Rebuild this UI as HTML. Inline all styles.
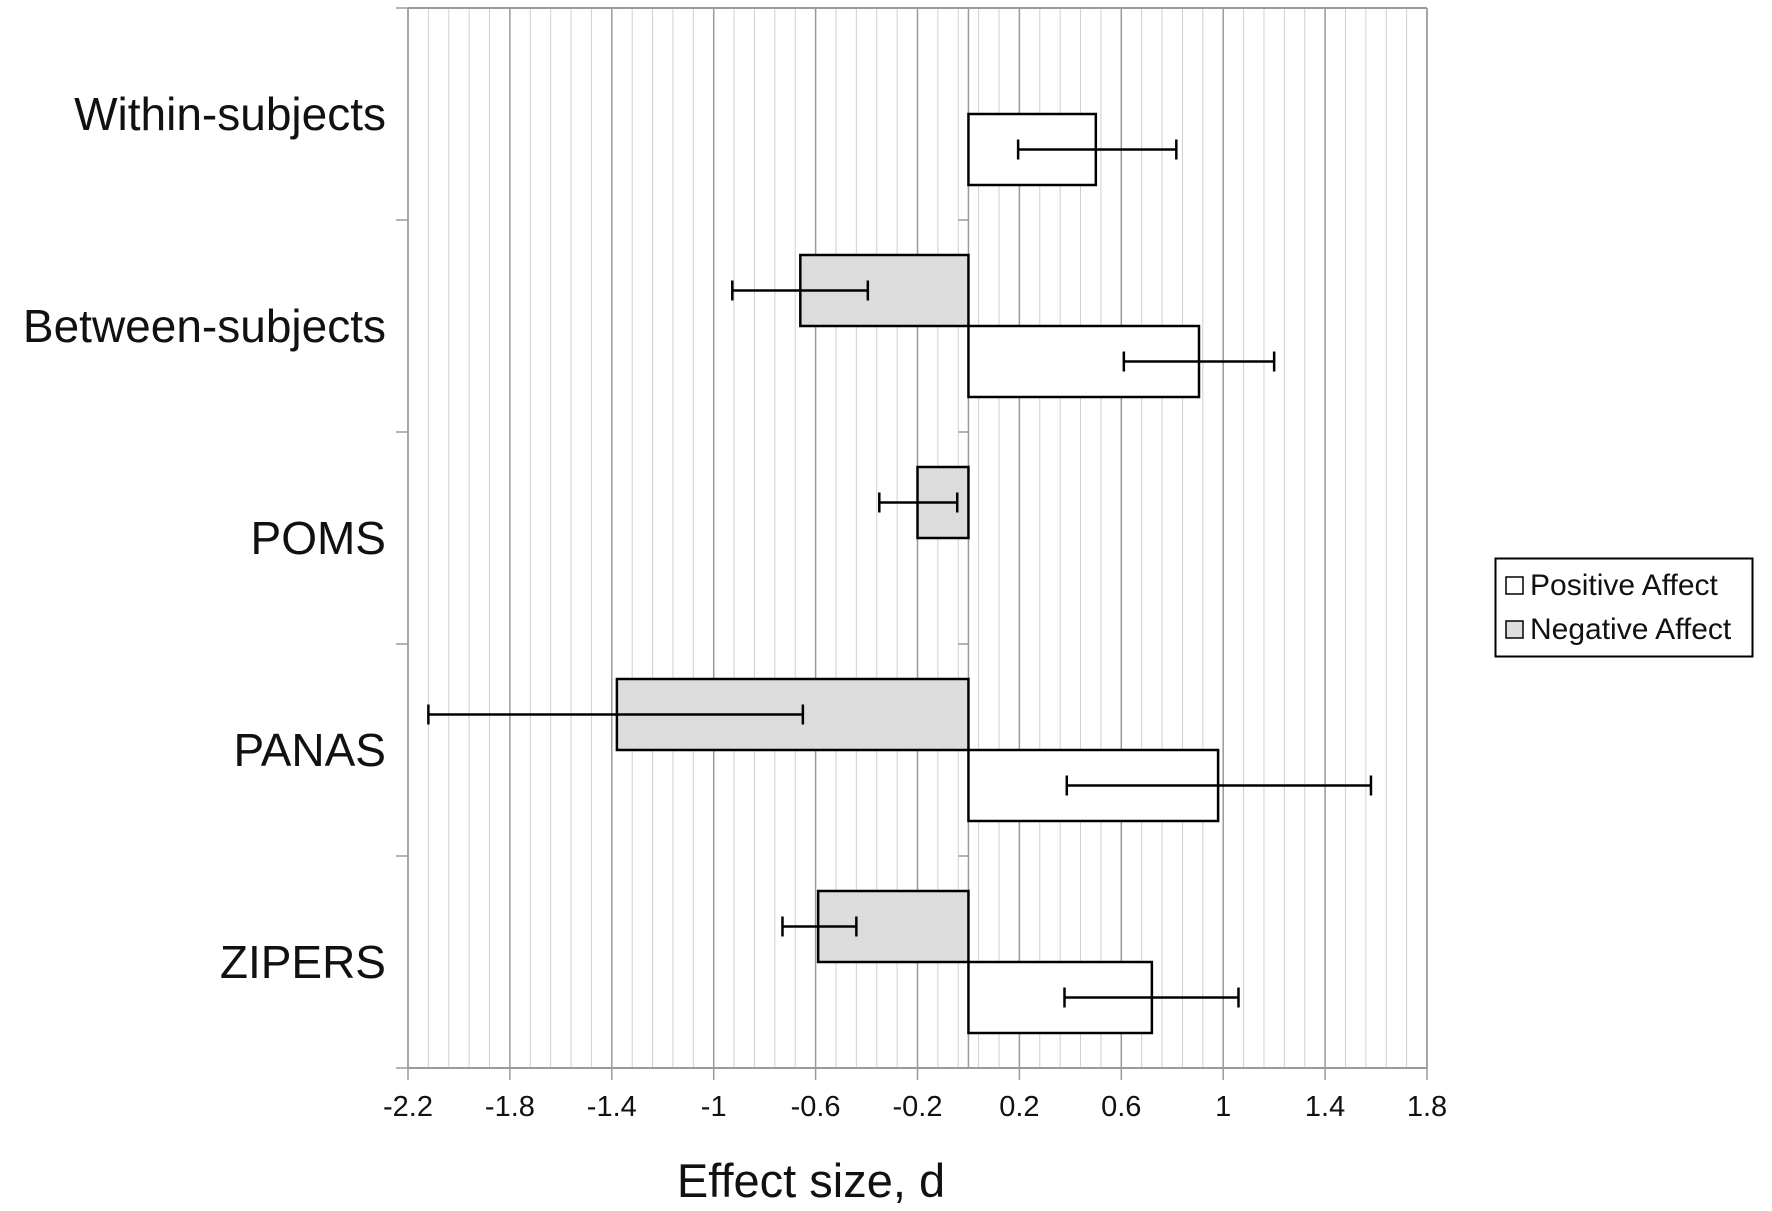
<!DOCTYPE html>
<html><head><meta charset="utf-8"><style>
html,body{margin:0;padding:0;background:#fff;}
svg{display:block;}
text{font-family:"Liberation Sans",Arial,sans-serif;fill:#111;}
</style></head><body>
<svg id="chart" width="1772" height="1211" viewBox="0 0 1772 1211">
<g id="grid"></g>
<g id="bars"></g>
<g id="axes"></g>
<text x="811" y="1197" font-size="47" text-anchor="middle">Effect size, d</text>
<g>
<rect x="1495.5" y="558.5" width="257" height="98" fill="#fff" stroke="#000" stroke-width="2"/>
<g>
<rect x="1506" y="577" width="17" height="17" fill="#fff" stroke="#000" stroke-width="1.5"/>
<text x="1530" y="595" font-size="30">Positive Affect</text></g>
<g>
<rect x="1506" y="621" width="17" height="17" fill="#ddd" stroke="#000" stroke-width="1.5"/>
<text x="1530" y="639" font-size="30">Negative Affect</text></g>
</g>
</svg>
<script>
const categories = ["Within-subjects","Between-subjects","POMS","PANAS","ZIPERS"];
const positiveValues = [0.50, 0.905, null, 0.98, 0.72];
const positiveLow = [0.195, 0.61, null, 0.386, 0.377];
const positiveHigh = [0.816, 1.20, null, 1.58, 1.06];
const negativeValues = [null, -0.66, -0.20, -1.38, -0.59];
const negativeLow = [null, -0.927, -0.35, -2.12, -0.73];
const negativeHigh = [null, -0.395, -0.044, -0.65, -0.44];
const tickValues = [-2.2,-1.8,-1.4,-1.0,-0.6,-0.2,0.2,0.6,1.0,1.4,1.8];
const tickLabels = ["-2.2","-1.8","-1.4","-1","-0.6","-0.2","0.2","0.6","1","1.4","1.8"];

const NS="http://www.w3.org/2000/svg";
const L=408, R=1427, T=8, B=1068, xMin=-2.2, xMax=1.8;
const x=v=>L+(v-xMin)/(xMax-xMin)*(R-L);
const band=(B-T)/categories.length;
const yC=i=>T+band*(i+0.5);
const barH=71;
function mk(tag,attrs,parent){const e=document.createElementNS(NS,tag);for(const k in attrs)e.setAttribute(k,attrs[k]);parent.appendChild(e);return e;}
const grid=document.getElementById('grid'), bars=document.getElementById('bars'), axes=document.getElementById('axes');
for(let k=0;k<=50;k++){const v=xMin+k*0.08;const g=mk('line',{x1:x(v),x2:x(v),y1:T,y2:B,stroke:'#d0d0d0','stroke-width':1},grid);

}
tickValues.forEach(v=>{const g=mk('line',{x1:x(v),x2:x(v),y1:T,y2:B,stroke:'#9a9a9a','stroke-width':1.5},grid);

});
const zl=mk('line',{x1:x(0),x2:x(0),y1:T,y2:B,stroke:'#9a9a9a','stroke-width':1.5},grid);


mk('line',{x1:L,x2:R,y1:T,y2:T,stroke:'#9a9a9a','stroke-width':2},axes);
mk('line',{x1:R,x2:R,y1:T,y2:B,stroke:'#9a9a9a','stroke-width':1.5},axes);
mk('line',{x1:L,x2:L,y1:T,y2:B,stroke:'#9a9a9a','stroke-width':1.5},axes);
const xa=mk('line',{x1:L,x2:R,y1:B,y2:B,stroke:'#9a9a9a','stroke-width':2},axes);


tickValues.forEach((v,i)=>{mk('line',{x1:x(v),x2:x(v),y1:B,y2:B+12,stroke:'#9a9a9a','stroke-width':1.5},axes);
const t=mk('text',{x:x(v),y:1116,'font-size':29,'text-anchor':'middle'},axes);t.textContent=tickLabels[i];

});
for(let i=0;i<=categories.length;i++){const yy=T+band*i;
mk('line',{x1:L-12,x2:L,y1:yy,y2:yy,stroke:'#9a9a9a','stroke-width':1.5},axes);
mk('line',{x1:x(0)-10,x2:x(0),y1:yy,y2:yy,stroke:'#9a9a9a','stroke-width':1.5},axes);}
categories.forEach((c,i)=>{const t=mk('text',{x:386,y:yC(i)+16,'font-size':46,'text-anchor':'end'},axes);t.textContent=c;

});
function errBar(lo,hi,yy,parent){
mk('line',{x1:x(lo),x2:x(hi),y1:yy,y2:yy,stroke:'#000','stroke-width':2.5},parent);
mk('line',{x1:x(lo),x2:x(lo),y1:yy-10,y2:yy+10,stroke:'#000','stroke-width':2.5},parent);
mk('line',{x1:x(hi),x2:x(hi),y1:yy-10,y2:yy+10,stroke:'#000','stroke-width':2.5},parent);}
categories.forEach((c,i)=>{
if(negativeValues[i]!==null){const v=negativeValues[i];
const g=mk('g',{},bars);


mk('rect',{x:x(v),y:yC(i)-barH,width:x(0)-x(v),height:barH,fill:'#dcdcdc',stroke:'#000','stroke-width':2.5},g);
errBar(negativeLow[i],negativeHigh[i],yC(i)-barH/2,g);}
if(positiveValues[i]!==null){const v=positiveValues[i];
const g=mk('g',{},bars);


mk('rect',{x:x(0),y:yC(i),width:x(v)-x(0),height:barH,fill:'#fff',stroke:'#000','stroke-width':2.5},g);
errBar(positiveLow[i],positiveHigh[i],yC(i)+barH/2,g);}
});
</script>
</body></html>
